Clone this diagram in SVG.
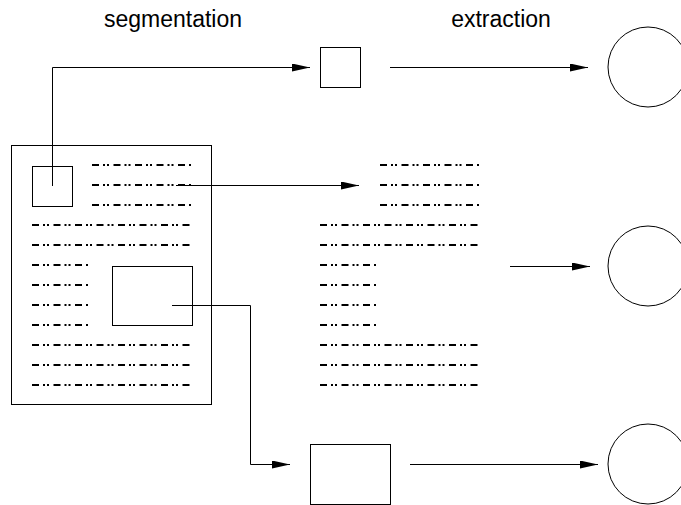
<svg xmlns="http://www.w3.org/2000/svg" width="681" height="505" viewBox="0 0 681 505">
<style>
.box{fill:none;stroke:#000;stroke-width:1}
.conn{fill:none;stroke:#000;stroke-width:1}
.txt{stroke:#000;stroke-width:2;stroke-dasharray:7 4 2 2 2 4.5;fill:none}
.lbl{font-family:"Liberation Sans",Arial,sans-serif;font-size:23px;fill:#000;text-anchor:middle}
</style>
<defs>
<marker id="ah" markerUnits="userSpaceOnUse" markerWidth="18" markerHeight="8" refX="18" refY="4" orient="auto">
<path d="M0,0 L18,4 L0,8 z" fill="#000"/>
</marker>
</defs>
<g id="labels">
<text class="lbl" x="173" y="27">segmentation</text>
<text class="lbl" x="501" y="27">extraction</text>
</g>
<g id="document">
<rect class="box" x="11.5" y="145.5" width="200" height="259"/>
<rect class="box" x="32.5" y="166.5" width="40" height="40"/>
<rect class="box" x="112.5" y="266.5" width="80" height="59"/>
<path class="txt" d="M92,165H192M92,185H192M92,205H192M32,225H192M32,245H192M32,265H88M32,285H88M32,305H88M32,325H88M32,345H192M32,365H192M32,385H192"/>
</g>
<g id="text-block">
<path class="txt" d="M380,165H480M380,185H480M380,205H480M320,225H480M320,245H480M320,265H376M320,285H376M320,305H376M320,325H376M320,345H480M320,365H480M320,385H480"/>
</g>
<g id="image-small"><rect class="box" x="320.5" y="47.5" width="40" height="40"/></g>
<g id="image-large"><rect class="box" x="310.5" y="444.5" width="80" height="60"/></g>
<g id="result-top"><circle class="box" cx="648" cy="67" r="40"/></g>
<g id="result-mid"><circle class="box" cx="648" cy="266" r="40"/></g>
<g id="result-bottom"><circle class="box" cx="648" cy="464" r="40"/></g>
<g id="connectors">
<path class="conn" d="M52.5,186V67.5H310" marker-end="url(#ah)"/>
<path class="conn" d="M176,185.5H359" marker-end="url(#ah)"/>
<path class="conn" d="M172,305.5H250.5V464.5H290" marker-end="url(#ah)"/>
<path class="conn" d="M390,67.5H588" marker-end="url(#ah)"/>
<path class="conn" d="M510,266.5H590" marker-end="url(#ah)"/>
<path class="conn" d="M410,464.5H598" marker-end="url(#ah)"/>
</g>
</svg>
